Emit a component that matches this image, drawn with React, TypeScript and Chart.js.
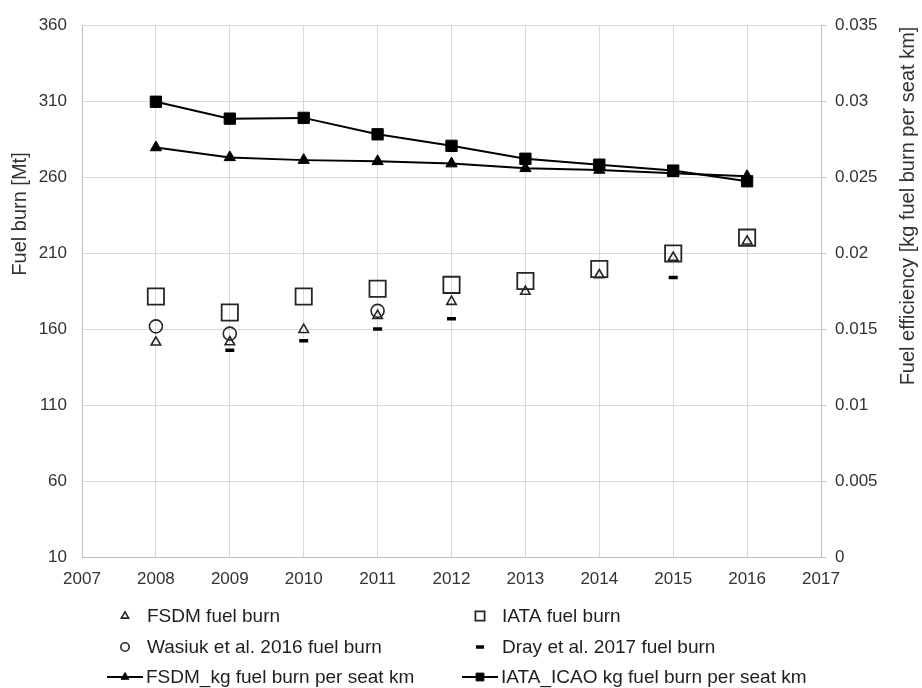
import { useEffect, useRef } from 'react';
import { Chart, registerables } from 'chart.js';
import { drawPoint } from 'chart.js/helpers';

Chart.register(...registerables);

// Years covered by the comparison
const years = [2008, 2009, 2010, 2011, 2012, 2013, 2014, 2015, 2016];

// Annual fuel burn [Mt]
const fsdmFuelBurn = [151.3, 151.5, 159.6, 168.8, 178.1, 184.7, 195.6, 207.1, 217.8];
const iataFuelBurn = [181.4, 170.9, 181.4, 186.5, 189.1, 191.7, 199.5, 209.7, 220.2];
const wasiukFuelBurn = [161.8, 157.0, null, 172.0, null, null, null, null, null];
const drayFuelBurn = [null, 146.1, 152.4, 160.0, 166.8, null, null, 194.0, null];

// Fuel efficiency [kg fuel burn per seat km]
const fsdmPerSeatKm = [0.02695, 0.0263, 0.02612, 0.02604, 0.02589, 0.02558, 0.02547, 0.02525, 0.02506];
const iataIcaoPerSeatKm = [0.02996, 0.02885, 0.0289, 0.02782, 0.02706, 0.02621, 0.02582, 0.02543, 0.02473];

// Axis ranges
const yearMin = 2007;
const yearMax = 2017;
const fuelBurnMin = 10;
const fuelBurnMax = 360;
const fuelBurnStep = 50;
const efficiencyMin = 0;
const efficiencyMax = 0.035;
const efficiencyStep = 0.005;

const leftTitle = 'Fuel burn [Mt]';
const rightTitle = 'Fuel efficiency [kg fuel burn per seat km]';

const FONT = '"Liberation Sans", Arial, Helvetica, sans-serif';
const INK = '#1f1f1f';
const TICK = '#333333';
const GRID = '#d9d9d9';
const AXIS = '#bfbfbf';

const toPoints = (vals: (number | null)[]) =>
  years
    .map((x, i) => ({ x, y: vals[i] }))
    .filter((p) => p.y !== null) as { x: number; y: number }[];

// Legend layout: dataset index, column, row, whether a line is drawn, marker radius
const legendItems = [
  { ds: 2, col: 0, row: 0, line: false, r: 4.2 },
  { ds: 3, col: 1, row: 0, line: false, r: 6.5 },
  { ds: 4, col: 0, row: 1, line: false, r: 4.2 },
  { ds: 5, col: 1, row: 1, line: false, r: 4 },
  { ds: 1, col: 0, row: 2, line: true, r: 4.5 },
  { ds: 0, col: 1, row: 2, line: true, r: 5.5 },
];

const legendPlugin = {
  id: 'bottomLegend',
  afterDraw(chart: any) {
    const { ctx } = chart;
    const colX = [125, 480];
    const rowY = [616, 647, 677];
    ctx.save();
    ctx.font = `19px ${FONT}`;
    ctx.textBaseline = 'middle';
    ctx.textAlign = 'left';
    legendItems.forEach((item) => {
      const ds = chart.data.datasets[item.ds];
      const x = colX[item.col];
      const y = rowY[item.row];
      if (item.line) {
        ctx.strokeStyle = ds.borderColor;
        ctx.lineWidth = ds.borderWidth;
        ctx.beginPath();
        ctx.moveTo(x - 18, y);
        ctx.lineTo(x + 18, y);
        ctx.stroke();
      }
      ctx.strokeStyle = ds.pointBorderColor;
      ctx.fillStyle = ds.pointBackgroundColor;
      ctx.lineWidth = ds.pointBorderWidth;
      drawPoint(
        ctx,
        { pointStyle: ds.pointStyle, rotation: 0, radius: item.r, borderWidth: ds.pointBorderWidth } as any,
        x,
        y
      );
      ctx.fillStyle = INK;
      ctx.fillText(ds.label, x + (item.line ? 21 : 22), y + 1);
    });
    ctx.restore();
  },
};

const titlePlugin = {
  id: 'axisTitles',
  afterDraw(chart: any) {
    const { ctx } = chart;
    ctx.save();
    ctx.font = `20px ${FONT}`;
    ctx.fillStyle = TICK;
    ctx.textAlign = 'center';
    ctx.textBaseline = 'middle';
    const titles: [number, number, string][] = [
      [20, 214, leftTitle],
      [908, 206, rightTitle],
    ];
    titles.forEach(([x, y, t]) => {
      ctx.save();
      ctx.translate(x, y);
      ctx.rotate(-Math.PI / 2);
      ctx.fillText(t, 0, 0);
      ctx.restore();
    });
    ctx.restore();
  },
};

export default function App() {
  const canvasRef = useRef<HTMLCanvasElement | null>(null);

  useEffect(() => {
    document.body.style.margin = '0';
    const canvas = canvasRef.current;
    if (!canvas) return;

    const chart = new Chart(canvas, {
      type: 'scatter',
      data: {
        datasets: [
          {
            label: 'IATA_ICAO kg fuel burn per seat km',
            data: toPoints(iataIcaoPerSeatKm),
            yAxisID: 'yEff',
            showLine: true,
            borderColor: '#000000',
            borderWidth: 2,
            pointStyle: 'rect',
            pointRadius: 8,
            pointBorderWidth: 1,
            pointBorderColor: '#000000',
            pointBackgroundColor: '#000000',
          },
          {
            label: 'FSDM_kg fuel burn per seat km',
            data: toPoints(fsdmPerSeatKm),
            yAxisID: 'yEff',
            showLine: true,
            borderColor: '#000000',
            borderWidth: 2,
            pointStyle: 'triangle',
            pointRadius: 6.5,
            pointBorderWidth: 1,
            pointBorderColor: '#000000',
            pointBackgroundColor: '#000000',
          },
          {
            label: 'FSDM fuel burn',
            data: toPoints(fsdmFuelBurn),
            yAxisID: 'yFuel',
            showLine: false,
            pointStyle: 'triangle',
            pointRadius: 5.5,
            pointBorderWidth: 1.6,
            pointBorderColor: '#262626',
            pointBackgroundColor: 'rgba(0,0,0,0)',
          },
          {
            label: 'IATA fuel burn',
            data: toPoints(iataFuelBurn),
            yAxisID: 'yFuel',
            showLine: false,
            pointStyle: 'rect',
            pointRadius: 11.5,
            pointBorderWidth: 1.8,
            pointBorderColor: '#262626',
            pointBackgroundColor: 'rgba(0,0,0,0)',
          },
          {
            label: 'Wasiuk et al. 2016 fuel burn',
            data: toPoints(wasiukFuelBurn),
            yAxisID: 'yFuel',
            showLine: false,
            pointStyle: 'circle',
            pointRadius: 6.5,
            pointBorderWidth: 1.6,
            pointBorderColor: '#262626',
            pointBackgroundColor: 'rgba(0,0,0,0)',
          },
          {
            label: 'Dray et al. 2017 fuel burn',
            data: toPoints(drayFuelBurn),
            yAxisID: 'yFuel',
            showLine: false,
            pointStyle: 'line',
            pointRadius: 4.5,
            pointBorderWidth: 3.5,
            pointBorderColor: '#000000',
            pointBackgroundColor: '#000000',
          },
        ],
      },
      options: {
        animation: false,
        responsive: false,
        maintainAspectRatio: false,
        layout: { padding: { top: 22, left: 0, right: 0, bottom: 0 } },
        plugins: {
          legend: { display: false },
          tooltip: { enabled: false },
          title: { display: false },
        },
        scales: {
          x: {
            type: 'linear',
            position: 'bottom',
            min: yearMin,
            max: yearMax,
            ticks: {
              stepSize: 1,
              color: TICK,
              font: { family: FONT, size: 17 },
              padding: 12,
              maxRotation: 0,
              callback: (v: any) => String(v),
            },
            grid: { color: GRID, lineWidth: 1, drawTicks: false },
            border: { color: AXIS, width: 1 },
            afterFit: (scale: any) => {
              scale.height = 131;
            },
          },
          yFuel: {
            type: 'linear',
            position: 'left',
            min: fuelBurnMin,
            max: fuelBurnMax,
            ticks: {
              stepSize: fuelBurnStep,
              color: TICK,
              font: { family: FONT, size: 17 },
              padding: 15,
              callback: (v: any) => String(Math.round(v)),
            },
            grid: { color: GRID, lineWidth: 1, drawTicks: false },
            border: { color: AXIS, width: 1 },
            afterFit: (scale: any) => {
              scale.width = 82;
            },
          },
          yEff: {
            type: 'linear',
            position: 'right',
            min: efficiencyMin,
            max: efficiencyMax,
            ticks: {
              stepSize: efficiencyStep,
              color: TICK,
              font: { family: FONT, size: 17 },
              padding: 9,
              callback: (v: any) => String(Number(Number(v).toFixed(3))),
            },
            grid: { color: AXIS, drawOnChartArea: false, drawTicks: true, tickLength: 5 },
            border: { color: AXIS, width: 1 },
            afterFit: (scale: any) => {
              scale.width = 101;
            },
          },
        },
      },
      plugins: [legendPlugin, titlePlugin],
    } as any);

    return () => chart.destroy();
  }, []);

  return (
    <div style={{ width: 922, height: 688, background: '#ffffff' }}>
      <canvas ref={canvasRef} width={922} height={688} style={{ display: 'block' }} />
    </div>
  );
}
